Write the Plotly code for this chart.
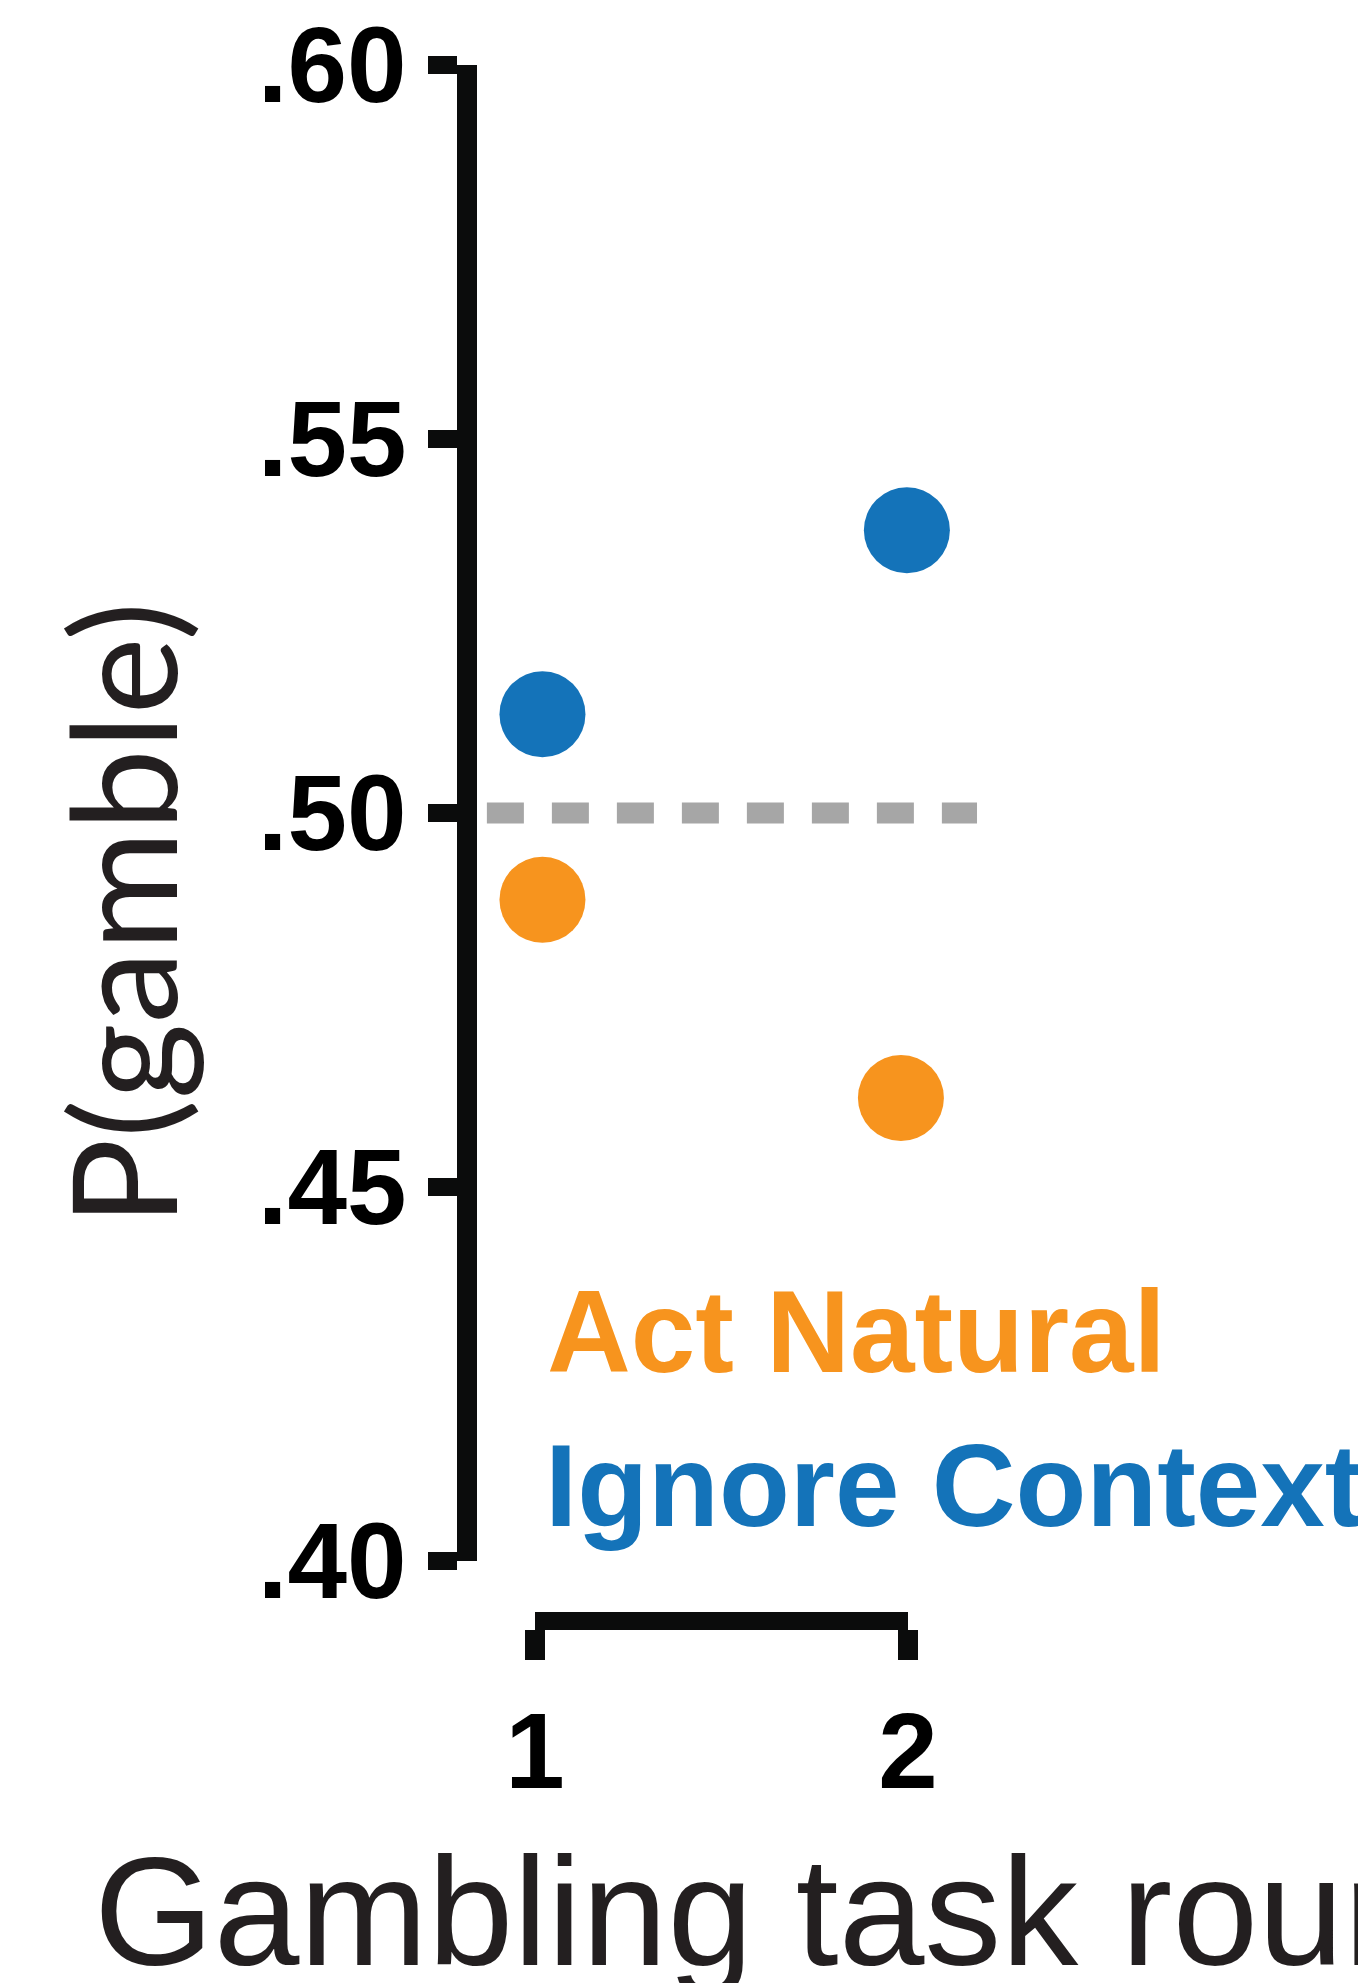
import plotly.graph_objects as go

# ---------------- data ----------------
rounds = [1, 2]
round_labels = ["1", "2"]
series_names = ["Act Natural", "Ignore Context"]
series_colors = ["#F7941E", "#1473B9"]
# x positions of the dots (slightly offset from round centre, as drawn)
act_natural_x = [1.02, 1.981]
act_natural_y = [0.4884, 0.4619]
ignore_context_x = [1.02, 1.997]
ignore_context_y = [0.5132, 0.5378]
chance_level = 0.50
chance_x_extent = [0.871, 2.185]
y_tickvals = [0.40, 0.45, 0.50, 0.55, 0.60]
y_ticktext = [".40", ".45", ".50", ".55", ".60"]
y_range = [0.40, 0.60]

# ---------------- layout geometry (page pixels) ----------------
W, H = 1366, 1983
OFF = 8                            # page body margin


def px_x(p):
    return (p - OFF) / W


def px_y(p):
    return (H - (p - OFF)) / H


X1_PX, X2_PX = 535, 908          # pixel positions of round 1 / 2
UNIT = X2_PX - X1_PX
Y_TOP_PX, Y_BOT_PX = 65, 1561     # .60 and .40
YAXIS_X_PX = 467
XAXIS_Y_PX = 1621

AXCOL = "#0b0c0c"
TXT = "#231f20"

fig = go.Figure()

fig.add_trace(go.Scatter(
    x=chance_x_extent, y=[chance_level, chance_level], mode="lines",
    line=dict(color="#A6A6A6", width=21, dash="37px,28px"),
    hoverinfo="skip", showlegend=False))

for name, col, xs, ys in [
    (series_names[1], series_colors[1], ignore_context_x, ignore_context_y),
    (series_names[0], series_colors[0], act_natural_x, act_natural_y),
]:
    fig.add_trace(go.Scatter(
        x=xs, y=ys, mode="markers", name=name,
        marker=dict(size=86, color=col, line=dict(width=0)),
        showlegend=False))

# dummy trace to carry the bracket-style x axis
fig.add_trace(go.Scatter(x=rounds, y=[None, None], xaxis="x2", yaxis="y",
                         mode="markers", showlegend=False, hoverinfo="skip"))

x_lo = 1 - (X1_PX - OFF) / UNIT
x_hi = x_lo + W / UNIT

fig.update_layout(
    width=W, height=H,
    margin=dict(l=0, r=0, t=0, b=0, autoexpand=False),
    paper_bgcolor="white", plot_bgcolor="rgba(0,0,0,0)",
    xaxis=dict(domain=[0, 1], range=[x_lo, x_hi],
               visible=False, showgrid=False, zeroline=False, automargin=False),
    xaxis2=dict(domain=[px_x(X1_PX), px_x(X2_PX)], range=[rounds[0], rounds[1]],
                anchor="free", position=px_y(XAXIS_Y_PX), automargin=False,
                showline=True, linewidth=18, linecolor=AXCOL,
                ticks="outside", ticklen=30, tickwidth=20, tickcolor=AXCOL,
                tickvals=rounds, ticktext=round_labels, ticklabeloverflow="allow",
                tickfont=dict(family="Liberation Sans", size=107, color="black",
                              weight="bold"),
                showgrid=False, zeroline=False),
    yaxis=dict(domain=[px_y(Y_BOT_PX), px_y(Y_TOP_PX)], range=y_range,
               anchor="free", position=px_x(YAXIS_X_PX), automargin=False,
               showline=True, linewidth=20, linecolor=AXCOL,
               ticks="outside", ticklen=29, tickwidth=18, tickcolor=AXCOL,
               tickvals=y_tickvals, ticktext=y_ticktext, ticklabeloverflow="allow",
               tickfont=dict(family="Liberation Sans", size=107, color="black",
                             weight="bold"),
               showgrid=False, zeroline=False),
)

anns = [
    dict(text="P(gamble)", x=px_x(120), y=px_y(914), textangle=-90,
         font=dict(family="Lato", size=146, color=TXT)),
    dict(text="Gambling task round", x=px_x(93), y=px_y(1912), xanchor="left",
         font=dict(family="Liberation Sans", size=154, color=TXT)),
    dict(text=series_names[0], x=px_x(546), y=px_y(1332), xanchor="left",
         font=dict(family="Liberation Sans", size=116, color=series_colors[0], weight="bold")),
    dict(text=series_names[1], x=px_x(544), y=px_y(1486), xanchor="left",
         font=dict(family="Liberation Sans", size=116, color=series_colors[1], weight="bold")),
]
for a in anns:
    a.setdefault("xanchor", "center")
    fig.add_annotation(xref="paper", yref="paper", showarrow=False,
                       yanchor="middle", borderpad=0, **a)

fig.write_html("out.html")
